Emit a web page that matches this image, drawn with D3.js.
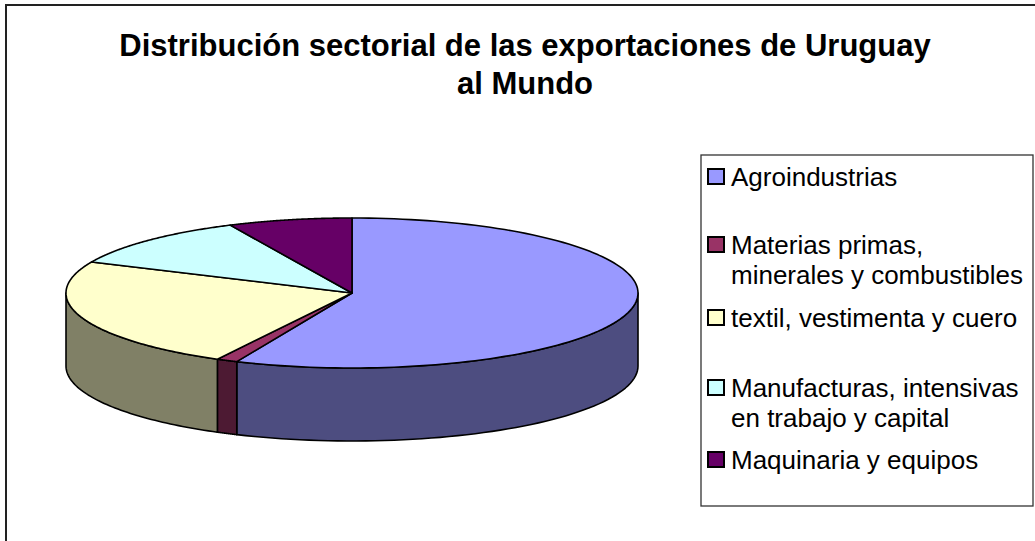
<!DOCTYPE html>
<html>
<head>
<meta charset="utf-8">
<script src="https://cdn.jsdelivr.net/npm/d3@7"></script>
<style>
  body { margin: 0; background: #fff; }
  svg { display: block; font-family: "Liberation Sans", Arial, sans-serif; }
</style>
</head>
<body>
<svg id="chart" width="1035" height="541"></svg>
<script>
// Data (share of exports, %)
var categories = ["Agroindustrias", "Materias primas, minerales y combustibles",
                  "textil, vestimenta y cuero", "Manufacturas, intensivas en trabajo y capital",
                  "Maquinaria y equipos"];
var shares = [56.6, 1.2, 24.0, 11.2, 7.0];
var legendLines = [["Agroindustrias"], ["Materias primas,", "minerales y combustibles"],
                   ["textil, vestimenta y cuero"], ["Manufacturas, intensivas", "en trabajo y capital"],
                   ["Maquinaria y equipos"]];
var topColors = ["#9999ff", "#993366", "#ffffcc", "#ccffff", "#660066"];
var sideColors = ["#4d4d80", "#4d1a33", "#808066", "#668080", "#330033"];
var titleLines = ["Distribución sectorial de las exportaciones de Uruguay", "al Mundo"];

(function () {
  "use strict";

  var svg = d3.select("#chart"),
      cx = 352, cy = 293, rx = 286, ry = 75, depth = 73;

  // chart frame
  svg.append("rect")
    .attr("x", 6).attr("y", 5).attr("width", 1040).attr("height", 560)
    .attr("fill", "none").attr("stroke", "#222").attr("stroke-width", 2);

  // title
  svg.append("text")
    .attr("x", 525).attr("text-anchor", "middle")
    .attr("font-size", 31).attr("font-weight", "bold")
    .selectAll("tspan").data(titleLines).enter().append("tspan")
    .attr("x", 525).attr("y", function (d, i) { return 56 + i * 38; })
    .text(function (d) { return d; });

  var pie = d3.pie().sort(null).value(function (d) { return d; });
  var arcs = pie(shares);

  // point on ellipse, angle clockwise from 12 o'clock
  function pt(a, dy) {
    return [cx + rx * Math.sin(a), cy - ry * Math.cos(a) + (dy || 0)];
  }
  function arcPath(a0, a1, dy, n) {
    var s = [], i, a;
    for (i = 0; i <= n; i++) {
      a = a0 + (a1 - a0) * i / n;
      s.push(pt(a, dy));
    }
    return s;
  }

  // side walls (front half only: PI/2 .. 3PI/2)
  var sideG = svg.append("g");
  arcs.forEach(function (d, i) {
    var a0 = Math.max(d.startAngle, Math.PI / 2),
        a1 = Math.min(d.endAngle, 3 * Math.PI / 2);
    if (a1 <= a0) return;
    var top = arcPath(a0, a1, 0, 60),
        bot = arcPath(a1, a0, depth, 60),
        pts = top.concat(bot);
    sideG.append("path")
      .attr("d", d3.line()(pts) + "Z")
      .attr("fill", sideColors[i])
      .attr("stroke", "#000").attr("stroke-width", 1.6)
      .attr("stroke-linejoin", "round");
  });

  // top faces
  var topG = svg.append("g");
  arcs.forEach(function (d, i) {
    var pts = [[cx, cy]].concat(arcPath(d.startAngle, d.endAngle, 0, 120));
    topG.append("path")
      .attr("d", d3.line()(pts) + "Z")
      .attr("fill", topColors[i])
      .attr("stroke", "#000").attr("stroke-width", 1.6)
      .attr("stroke-linejoin", "round");
  });

  // legend
  var lg = svg.append("g");
  lg.append("rect")
    .attr("x", 701).attr("y", 155).attr("width", 332).attr("height", 351)
    .attr("fill", "#fff").attr("stroke", "#333").attr("stroke-width", 1.3);

  var rowY = [177, 245, 318, 388, 460];
  categories.forEach(function (c, i) {
    var g = lg.append("g").attr("transform", "translate(0," + rowY[i] + ")");
    g.append("rect")
      .attr("x", 708).attr("y", -8).attr("width", 16).attr("height", 15)
      .attr("fill", topColors[i]).attr("stroke", "#000").attr("stroke-width", 2);
    g.append("text")
      .attr("font-size", 26)
      .selectAll("tspan").data(legendLines[i]).enter().append("tspan")
      .attr("x", 731).attr("y", function (d, j) { return 9 + j * 30; })
      .text(function (d) { return d; });
  });
}());
</script>
</body>
</html>
